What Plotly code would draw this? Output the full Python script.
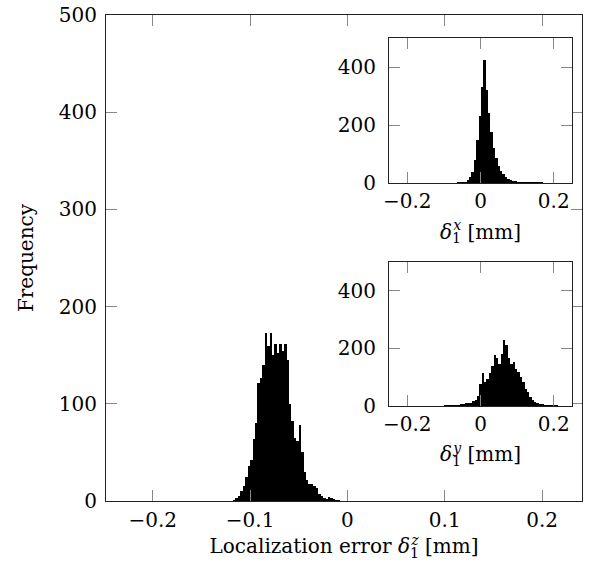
import plotly.graph_objects as go

# ---------------- data ----------------
# main histogram: localization error delta_1^z (bins of width 0.0025 starting at -0.12)
z_bin_start = -0.12
z_bin_width = 0.0025
z_counts = [0, 1, 3, 5, 10, 15, 25, 36, 42, 64, 80, 121, 127, 140, 173, 159, 173, 150,
            162, 152, 162, 154, 162, 145, 100, 82, 65, 62, 78, 50, 30, 22, 18, 17, 15,
            13, 7, 5, 3, 2, 4, 3, 2, 1, 1, 0]

# inset 1: delta_1^x (bins of width 0.0065)
x_bin_start = -0.06375
x_bin_width = 0.0065
x_counts = [2, 2, 3, 5, 10, 20, 40, 80, 150, 230, 330, 425, 320, 240, 175, 120, 85,
            60, 42, 30, 20, 14, 10, 8, 6, 5, 4, 3, 3, 2, 2, 2, 1, 1, 1, 1]

# inset 2: delta_1^y (bins of width 0.0065)
y_bin_start = -0.10075
y_bin_width = 0.0065
y_counts = [1, 1, 2, 2, 2, 3, 3, 4, 8, 10, 10, 12, 18, 22, 35, 78, 113, 85, 95, 113,
            140, 177, 165, 147, 182, 229, 211, 165, 147, 153, 130, 118, 101, 84, 60,
            49, 31, 20, 14, 12, 6, 5, 3, 2, 2, 1, 1, 1]

main_xticks = [-0.2, -0.1, 0, 0.1, 0.2]
main_yticks = [0, 100, 200, 300, 400, 500]
inset_xticks = [-0.2, 0, 0.2]
inset_yticks = [0, 200, 400]


def centers(start, width, counts):
    return [start + width * (i + 0.5) for i in range(len(counts))]


FONT = "DejaVu Serif"

fig = go.Figure()
fig.add_trace(go.Bar(x=centers(z_bin_start, z_bin_width, z_counts), y=z_counts,
                     width=z_bin_width, marker=dict(color="black", line=dict(width=0)),
                     xaxis="x", yaxis="y", showlegend=False))
fig.add_trace(go.Bar(x=centers(x_bin_start, x_bin_width, x_counts), y=x_counts,
                     width=x_bin_width, marker=dict(color="black", line=dict(width=0)),
                     xaxis="x2", yaxis="y2", showlegend=False))
fig.add_trace(go.Bar(x=centers(y_bin_start, y_bin_width, y_counts), y=y_counts,
                     width=y_bin_width, marker=dict(color="black", line=dict(width=0)),
                     xaxis="x3", yaxis="y3", showlegend=False))

axis_common = dict(showline=True, linecolor="#222", linewidth=1, mirror="ticks",
                   ticks="inside", ticklen=11, tickwidth=1, tickcolor="#888",
                   showgrid=False, zeroline=False, automargin=False,
                   tickfont=dict(family=FONT, size=20, color="black"))


def delta(sup):
    return ("<i>δ</i><sub><span style='letter-spacing:-0.55em'>1</span></sub>"
            "<sup><i>" + sup + "</i></sup> [mm]")


fig.update_layout(
    width=592, height=573,
    margin=dict(l=106, r=10, t=15, b=72, autoexpand=False),
    paper_bgcolor="white", plot_bgcolor="white",
    bargap=0,
    font=dict(family=FONT, size=20, color="black"),
    xaxis=dict(range=[-0.248, 0.241], tickvals=main_xticks,
               ticktext=["−0.2", "−0.1", "0", "0.1", "0.2"], ticklabelstandoff=1,
               title=dict(text="Localization error " + delta("z"),
                          font=dict(family=FONT, size=20), standoff=4),
               domain=[0, 1], **axis_common),
    yaxis=dict(range=[0, 500], tickvals=main_yticks, ticklabelstandoff=4,
               title=dict(text="Frequency", font=dict(family=FONT, size=20), standoff=19),
               domain=[0, 1], **axis_common),
    xaxis2=dict(range=[-0.25, 0.25], tickvals=inset_xticks,
                ticktext=["−0.2", "0", "0.2"], ticklabelstandoff=0,
                title=dict(text=delta("x"), font=dict(family=FONT, size=20), standoff=12),
                domain=[0.5945, 0.979], anchor="y2", **axis_common),
    yaxis2=dict(range=[0, 500], tickvals=inset_yticks, ticklabelstandoff=8,
                domain=[0.654, 0.9527], anchor="x2", **axis_common),
    xaxis3=dict(range=[-0.25, 0.25], tickvals=inset_xticks,
                ticktext=["−0.2", "0", "0.2"], ticklabelstandoff=0,
                title=dict(text=delta("y"), font=dict(family=FONT, size=20), standoff=12),
                domain=[0.5945, 0.979], anchor="y3", **axis_common),
    yaxis3=dict(range=[0, 500], tickvals=inset_yticks, ticklabelstandoff=8,
                domain=[0.1955, 0.4918], anchor="x3", **axis_common),
)

fig.write_html("out.html",
               config={"displayModeBar": False},
               post_script="document.body.style.margin='0';")
